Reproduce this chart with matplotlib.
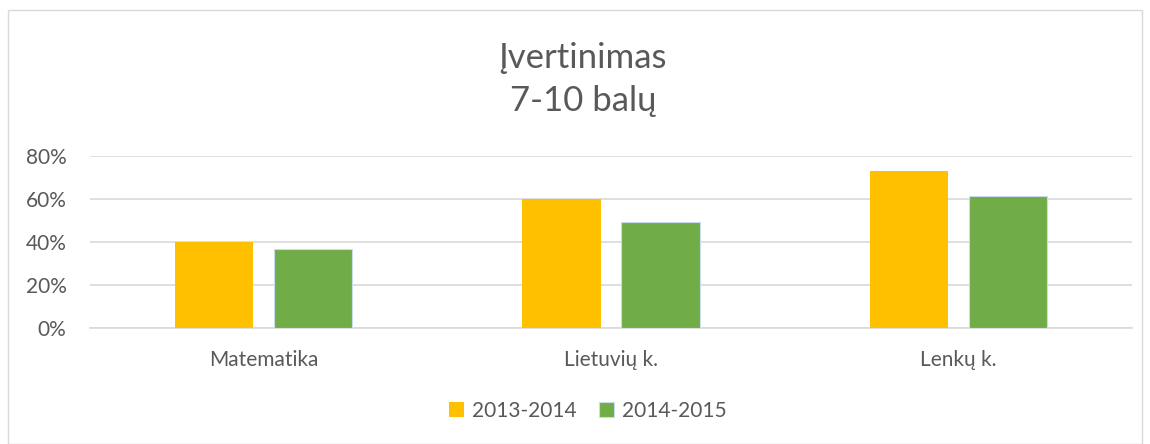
import numpy as np
import matplotlib.pyplot as plt
from matplotlib.patches import Rectangle

categories = ["Matematika", "Lietuvių k.", "Lenkų k."]
series_names = ["2013-2014", "2014-2015"]
values_2013 = [0.40, 0.60, 0.73]
values_2014 = [0.367, 0.494, 0.615]
yticks = [0, 0.2, 0.4, 0.6, 0.8]
ytick_labels = ["0%", "20%", "40%", "60%", "80%"]

plt.rcParams['font.family'] = ['Lato', 'DejaVu Sans']
txt = '#595959'

fig = plt.figure(figsize=[11.5, 4.44], dpi=100)
fig.patches.append(Rectangle((8/1150, 0), 1134/1150, 434/444, transform=fig.transFigure,
                             fill=False, edgecolor='#D9D9D9', linewidth=1))
ax = fig.add_axes([90/1150, 116/444, 1042/1150, 172/444])

x = np.arange(len(categories))
w = 0.225
off = 0.1425
ax.bar(x - off, values_2013, w, color='#FFC000', label=series_names[0], zorder=3)
ax.bar(x + off, values_2014, w, color='#70AD47', edgecolor='#C9DCEF', linewidth=0.8,
       label=series_names[1], zorder=3)

ax.set_xlim(-0.5, 2.5)
ax.set_ylim(0, 0.8)
ax.set_yticks(yticks)
ax.set_yticklabels(ytick_labels)
ax.set_xticks(x)
ax.set_xticklabels(categories)
ax.tick_params(axis='y', length=0, pad=17, labelsize=15, colors=txt)
ax.tick_params(axis='x', length=0, pad=16, labelsize=15, colors=txt)
ax.grid(axis='y', color='#D9D9D9', linewidth=1.2, zorder=0)
for s in ['top', 'right', 'left']:
    ax.spines[s].set_visible(False)
ax.spines['bottom'].set_color('#D9D9D9')
ax.spines['bottom'].set_linewidth(1.2)

cx = 583 / 1150
fig.text(cx, 1 - 58/444, "Įvertinimas", ha='center', va='center', fontsize=25, color=txt)
fig.text(cx, 1 - 101/444, "7-10 balų", ha='center', va='center', fontsize=25, color=txt)

fig.legend(loc='center', bbox_to_anchor=(588/1150, 1 - 411/444), ncol=2, frameon=False,
           fontsize=15, labelcolor=txt, handlelength=0.7, handleheight=0.7,
           handletextpad=0.4, columnspacing=1.1)

plt.savefig('out.png', dpi=100)
